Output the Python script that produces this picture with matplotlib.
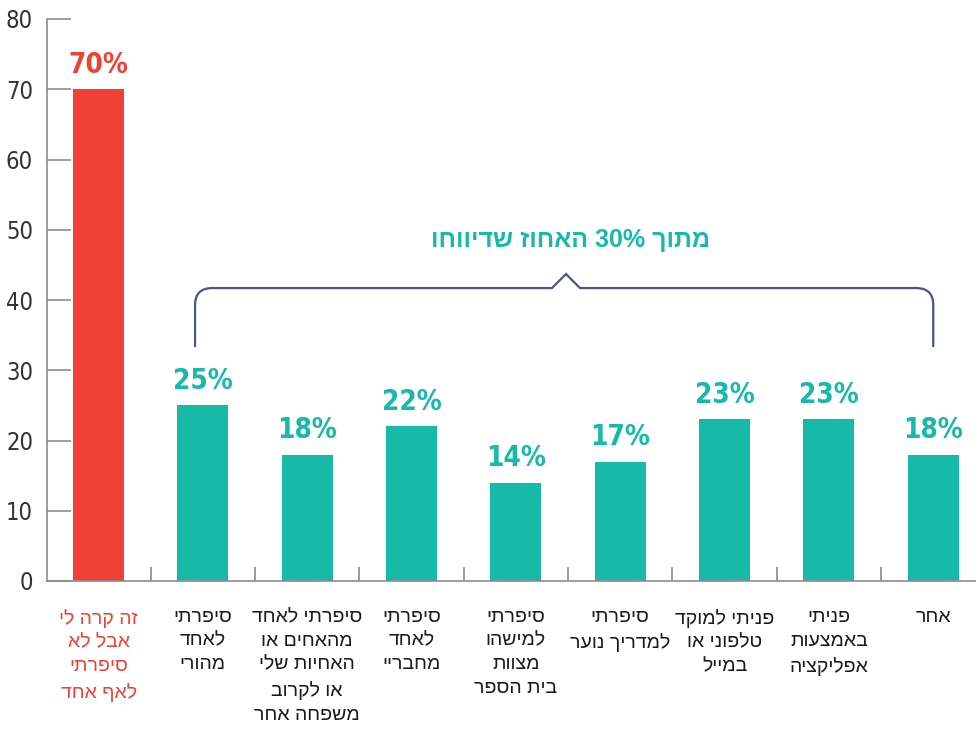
import matplotlib
matplotlib.use("Agg")
import matplotlib.pyplot as plt
from matplotlib.path import Path
from matplotlib.patches import PathPatch

plt.rcParams['font.family'] = ['DejaVu Sans']
plt.rcParams['font.stretch'] = 'condensed'
HEB = ['Liberation Sans', 'DejaVu Sans']

# ---- data ----
categories = [
    "זה קרה לי\nאבל לא\nסיפרתי\nלאף אחד",
    "סיפרתי\nלאחד\nמהורי",
    "סיפרתי לאחד\nמהאחים או\nהאחיות שלי\nאו לקרוב\nמשפחה אחר",
    "סיפרתי\nלאחד\nמחבריי",
    "סיפרתי\nלמישהו\nמצוות\nבית הספר",
    "סיפרתי\nלמדריך נוער",
    "פניתי למוקד\nטלפוני או\nבמייל",
    "פניתי\nבאמצעות\nאפליקציה",
    "אחר",
]
values = [70, 25, 18, 22, 14, 17, 23, 23, 18]
value_labels = ["70%", "25%", "18%", "22%", "14%", "17%", "23%", "23%", "18%"]
bracket_title = "מתוך 30% האחוז שדיווחו"
y_ticks = [0, 10, 20, 30, 40, 50, 60, 70, 80]

RED = "#F04234"
TEAL = "#17B9A9"
NAVY = "#4E5487"
GREY = "#8C8C8C"


def visual(text):
    """Convert logical-order Hebrew to visual order for LTR rendering."""
    out = []
    for line in text.split("\n"):
        words = line.split(" ")
        conv = []
        for w in reversed(words):
            if any(ch.isdigit() for ch in w):
                conv.append(w)
            else:
                conv.append(w[::-1])
        out.append(" ".join(conv))
    return "\n".join(out)


fig = plt.figure(figsize=(9.77, 7.44), dpi=100)
ax = fig.add_axes([47 / 977, 163 / 744, (975 - 47) / 977, 562 / 744])

x = list(range(len(values)))
colors = [RED] + [TEAL] * (len(values) - 1)
ax.bar(x, values, width=0.49, color=colors, zorder=2)

ax.set_xlim(-0.494, 8.40)
ax.set_ylim(0, 80)

for xi, v, lab, c in zip(x, values, value_labels, colors):
    ax.text(xi, v + 1.5, lab, ha="center", va="bottom", color=c,
            fontsize=20, fontweight="bold")

# axes styling
for s in ["top", "right"]:
    ax.spines[s].set_visible(False)
ax.spines["left"].set_color(GREY)
ax.spines["bottom"].set_color(GREY)
ax.spines["left"].set_linewidth(1.2)
ax.spines["bottom"].set_linewidth(1.2)

ax.set_yticks(y_ticks)
ax.set_yticklabels([str(t) for t in y_ticks], fontsize=17, color="#333333")
ax.tick_params(axis="y", direction="in", length=17, width=1.2, color=GREY, pad=10)

ax.set_xticks([i + 0.5 for i in x[:-1]], minor=True)
ax.tick_params(axis="x", which="minor", direction="in", length=10, width=1.2, color=GREY)
ax.set_xticks(x)
ax.set_xticklabels([visual(c) for c in categories], fontsize=14, linespacing=1.52,
                   family=HEB, stretch='normal')
ax.tick_params(axis="x", which="major", length=0, pad=20)
for i, t in enumerate(ax.get_xticklabels()):
    t.set_color(RED if i == 0 else "#1a1a1a")
    t.set_verticalalignment("top")

# ---- bracket ----
xl, xr = 0.925, 8.0
yb, yh, yp = 33.3, 41.7, 43.7
xp, hw = 4.48, 0.134
rx, ry = 0.163, 2.42
verts = [
    (xl, yb), (xl, yh - ry),
    (xl, yh), (xl + rx, yh),
    (xp - hw, yh), (xp, yp), (xp + hw, yh),
    (xr - rx, yh),
    (xr, yh), (xr, yh - ry),
    (xr, yb),
]
codes = [
    Path.MOVETO, Path.LINETO,
    Path.CURVE3, Path.CURVE3,
    Path.LINETO, Path.LINETO, Path.LINETO,
    Path.LINETO,
    Path.CURVE3, Path.CURVE3,
    Path.LINETO,
]
ax.add_patch(PathPatch(Path(verts, codes), facecolor="none", edgecolor=NAVY,
                       linewidth=1.6, zorder=3))
ax.text(4.52, 48.5, visual(bracket_title), ha="center", va="center",
        color=TEAL, fontsize=18, fontweight="bold", family=HEB, stretch='normal')

fig.savefig("out.png", dpi=100, facecolor="white")
